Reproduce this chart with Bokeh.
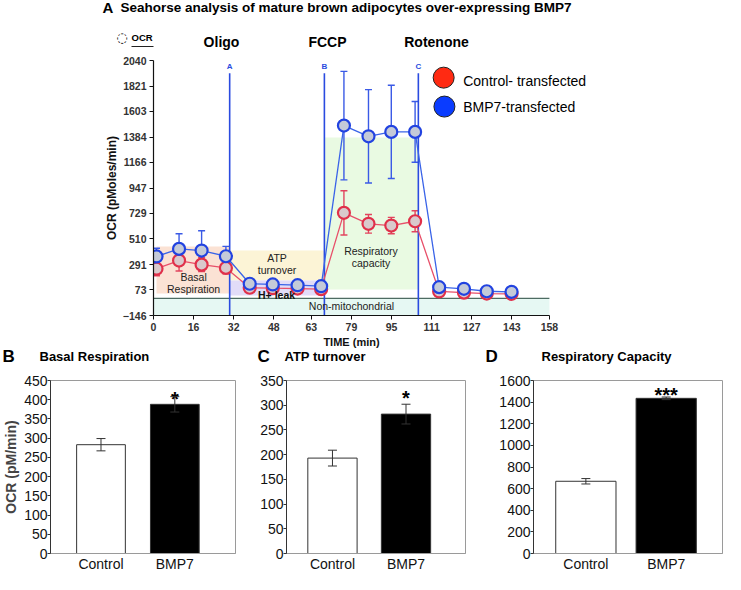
from bokeh.plotting import figure
from bokeh.layouts import column, row
from bokeh.models import ColumnDataSource, Whisker, TeeHead, FixedTicker, Label, Range1d
from bokeh.core.properties import value
from bokeh.embed import file_html
from bokeh.resources import INLINE

# ---------------- data: Seahorse time course (panel A) ----------------
time_min = [1.2, 10.2, 19.2, 28.9, 38.4, 47.6, 57.5, 66.9, 76.0, 85.8, 94.9, 104.4, 114.0, 123.9, 133.0, 142.9]
ctrl_ocr = [255, 325, 290, 262, 92, 88, 85, 80, 734, 640, 625, 662, 60, 50, 42, 40]
ctrl_err = [60, 90, 60, 50, 15, 15, 15, 15, 190, 80, 70, 90, 10, 10, 10, 10]
bmp7_ocr = [360, 425, 411, 362, 126, 120, 114, 105, 1482, 1390, 1428, 1428, 97, 83, 62, 57]
bmp7_err = [70, 130, 170, 85, 20, 20, 15, 15, 465, 400, 400, 260, 15, 15, 15, 15]
x_ticks = [0, 16, 32, 48, 63, 79, 95, 111, 127, 143, 158]
y_ticks = [-146, 73, 291, 510, 729, 947, 1166, 1384, 1603, 1821, 2040]
injection_names = ["Oligo", "FCCP", "Rotenone"]
injection_letters = ["A", "B", "C"]
injection_times = [30.4, 68.2, 105.7]
series_names = ["Control- transfected", "BMP7-transfected"]

# shaded regions: name, x0, x1, y0, y1
region_names = ["Basal Respiration", "ATP turnover", "H+ leak", "Respiratory capacity", "Non-mitochondrial"]
region_x0 = [1.2, 30.4, 30.4, 68.2, 0]
region_x1 = [30.4, 68.2, 68.2, 105.7, 158]
region_y0 = [42, 154, 25, 77, -146]
region_y1 = [445, 411, 154, 1379, 0]

# ---------------- data: bar panels (B, C, D) ----------------
bar_groups = ["Control", "BMP7"]
basal_mean = [283, 388]
basal_sem = [16, 20]
basal_sig = ["", "*"]
atp_mean = [193, 282]
atp_sem = [16, 20]
atp_sig = ["", "*"]
rc_mean = [668, 1435]
rc_sem = [25, 12]
rc_sig = ["", "***"]

FONT = "Liberation Sans"
W = 725


def add_label(p, x, y, text, size, bold=False, color="#000000", align="left", baseline="middle", font=FONT):
    p.add_layout(Label(x=x, y=y, text=text, text_font=font, text_font_size=f"{size}px",
                       text_font_style="bold" if bold else "normal", text_color=color,
                       text_align=align, text_baseline=baseline))


def strip(height):
    s = figure(width=W, height=height, x_range=Range1d(0, W), y_range=Range1d(height, 0),
               x_axis_type=None, y_axis_type=None, output_backend="svg", toolbar_location=None,
               min_border=0, min_border_left=0, min_border_right=0, min_border_top=0, min_border_bottom=0)
    s.outline_line_color = None
    s.grid.visible = False
    return s


# ---------------- top strip: title, OCR header, injection names ----------------
sT = strip(52)
add_label(sT, 102, 7, "A", 15, bold=True)
add_label(sT, 120, 7, "Seahorse analysis of mature brown adipocytes over-expressing BMP7", 13.5, bold=True)
add_label(sT, 121.5, 37, "\u25cc", 13, align="center", font="DejaVu Sans")
add_label(sT, 131, 37, "OCR", 9.5, bold=True)
sT.segment(x0=[131], y0=[46], x1=[153], y1=[46], line_color="#222222", line_width=1)
for xn, nm in zip([221, 327, 436], injection_names):
    add_label(sT, xn, 41, nm, 14, bold=True, align="center")

# ---------------- Panel A ----------------
pA = figure(width=W, height=283, x_range=Range1d(0, 176), y_range=Range1d(-146, 2040),
            output_backend="svg", toolbar_location=None,
            min_border_left=153, min_border_right=131, min_border_top=8, min_border_bottom=20)
pA.outline_line_color = None
pA.grid.visible = False

region_colors = ["#fbe2d4", "#fcf4d6", "#e2dcf8", "#e9fae2", "#e6f8f3"]
pA.quad(left=region_x0, right=region_x1, bottom=region_y0, top=region_y1,
        fill_color=region_colors, line_color=None, level="underlay")
pA.segment(x0=[0], y0=[0], x1=[158], y1=[0], line_color="#4d6b62", line_width=1.3)

pA.segment(x0=injection_times, y0=[-146] * 3, x1=injection_times, y1=[1930] * 3,
           line_color="#2a4be0", line_width=1.6)
pA.text(x=injection_times, y=[1985] * 3, text=injection_letters, text_font=value(FONT),
        text_font_size="8px", text_font_style="bold", text_color="#2a4be0",
        text_align="center", text_baseline="middle")

for ys, es, col in [(ctrl_ocr, ctrl_err, "#e2445e"), (bmp7_ocr, bmp7_err, "#3a5ae6")]:
    src = ColumnDataSource(dict(t=time_min, lo=[v - e for v, e in zip(ys, es)], hi=[v + e for v, e in zip(ys, es)]))
    pA.add_layout(Whisker(source=src, base="t", lower="lo", upper="hi", line_color=col, line_width=1.4,
                          lower_head=TeeHead(size=7, line_color=col, line_width=1.4),
                          upper_head=TeeHead(size=7, line_color=col, line_width=1.4)))

pA.line(time_min, ctrl_ocr, line_color="#e8506a", line_width=1.3)
pA.scatter(time_min, ctrl_ocr, size=12, fill_color="#d9c9cc", line_color="#e0304a", line_width=2.2)
pA.line(time_min, bmp7_ocr, line_color="#3a64e8", line_width=1.3)
pA.scatter(time_min, bmp7_ocr, size=12, fill_color="#c4cad8", line_color="#2243e0", line_width=2.2)

# legend
pA.scatter([115.8, 116.1], [1893, 1645], size=21, fill_color=["#ff2a12", "#0a3cff"], line_color="#222222", line_width=1)
add_label(pA, 123.6, 1867, series_names[0], 14)
add_label(pA, 123.6, 1645, series_names[1], 14)

# region texts
add_label(pA, 16, 188, "Basal", 10.5, align="center", color="#222222")
add_label(pA, 16, 85, "Respiration", 10.5, align="center", color="#222222")
add_label(pA, 49.3, 348, "ATP", 10.5, align="center", color="#222222")
add_label(pA, 49.3, 240, "turnover", 10.5, align="center", color="#222222")
add_label(pA, 49.1, 30, region_names[2], 10.5, bold=True, align="center", color="#111111")
add_label(pA, 86.8, 411, "Respiratory", 10.5, align="center", color="#222222")
add_label(pA, 86.8, 306, "capacity", 10.5, align="center", color="#222222")
add_label(pA, 79, -62, region_names[4], 10.5, align="center", color="#222222")

for ax in [pA.xaxis, pA.yaxis]:
    ax.axis_line_color = "#111111"
    ax.axis_line_width = 1.2
    ax.major_tick_line_color = "#111111"
    ax.major_tick_out = 4
    ax.major_tick_in = 0
    ax.minor_tick_line_color = None
    ax.major_label_text_font = FONT
    ax.major_label_text_font_size = "10.5px"
    ax.major_label_text_font_style = "bold"
    ax.major_label_text_color = "#333333"
pA.xaxis.ticker = FixedTicker(ticks=x_ticks)
pA.xaxis.bounds = (0, 158)
pA.yaxis.ticker = FixedTicker(ticks=y_ticks)
pA.xaxis.major_label_standoff = 3
pA.yaxis.axis_label = "OCR (pMoles/min)"
pA.yaxis.axis_label_text_font = FONT
pA.yaxis.axis_label_text_font_style = "bold"
pA.yaxis.axis_label_text_color = "#111111"
pA.yaxis.axis_label_text_font_size = "12px"
pA.yaxis.major_label_standoff = 3
pA.yaxis.axis_label_standoff = 1

# ---------------- middle strip: x-axis title of A, titles of B/C/D ----------------
sM = strip(37)
add_label(sM, 351, 6, "TIME (min)", 11, bold=True, align="center", color="#111111")
add_label(sM, 2, 21, "B", 17, bold=True)
add_label(sM, 39, 21, "Basal Respiration", 13, bold=True)
add_label(sM, 257, 21, "C", 17, bold=True)
add_label(sM, 284, 21, "ATP turnover", 13, bold=True)
add_label(sM, 485, 21, "D", 17, bold=True)
add_label(sM, 541, 21, "Respiratory Capacity", 13, bold=True)


# ---------------- bar panels ----------------
def bar_panel(width, left, right, xr, ymax, ystep, means, sems, sig, sig_y, bar_w, ylabel=None):
    p = figure(width=width, height=202, x_range=Range1d(*xr), y_range=Range1d(0, ymax),
               output_backend="svg", toolbar_location=None,
               min_border_left=left, min_border_right=right, min_border_top=8, min_border_bottom=19)
    p.grid.visible = False
    p.outline_line_color = "#9a9a9a"
    p.outline_line_width = 1
    xs = [i + 1 for i in range(len(bar_groups))]
    p.vbar(x=xs, top=means, width=bar_w, fill_color=["white", "black"], line_color="#333333", line_width=1)
    src = ColumnDataSource(dict(x=xs, lo=[m - s for m, s in zip(means, sems)], hi=[m + s for m, s in zip(means, sems)]))
    p.add_layout(Whisker(source=src, base="x", lower="lo", upper="hi", line_color="#333333", line_width=1,
                         level="overlay",
                         lower_head=TeeHead(size=9, line_color="#333333", line_width=1),
                         upper_head=TeeHead(size=9, line_color="#333333", line_width=1)))
    p.text(x=xs, y=[sig_y] * len(xs), text=sig, text_font=value(FONT), text_font_size="20px", text_font_style="bold",
           text_align="center", text_baseline="middle", text_color="#000000")
    p.yaxis.ticker = FixedTicker(ticks=list(range(0, ymax + 1, ystep)))
    p.xaxis.ticker = FixedTicker(ticks=xs)
    p.xaxis.major_label_overrides = {x: g for x, g in zip(xs, bar_groups)}
    for ax in [p.xaxis, p.yaxis]:
        ax.minor_tick_line_color = None
        ax.major_label_text_font = FONT
        ax.major_label_text_font_size = "14px"
        ax.major_label_text_color = "#111111"
        ax.major_tick_in = 0
    p.yaxis.axis_line_color = "#333333"
    p.yaxis.major_tick_line_color = "#333333"
    p.yaxis.major_tick_out = 3
    p.yaxis.major_label_standoff = 0
    p.xaxis.axis_line_color = "#9a9a9a"
    p.xaxis.major_tick_line_color = None
    p.xaxis.major_tick_out = 0
    p.xaxis.major_label_standoff = 2
    if ylabel:
        p.yaxis.axis_label = ylabel
        p.yaxis.axis_label_text_font = FONT
        p.yaxis.axis_label_text_font_size = "14px"
        p.yaxis.axis_label_text_font_style = "bold"
        p.yaxis.axis_label_standoff = 2
    return p


pB = bar_panel(257, 46, 22, (0.316, 2.822), 450, 50, basal_mean, basal_sem, basal_sig, 403, 0.66,
               ylabel="OCR (pM/min)")
pC = bar_panel(229, 27, 21, (0.375, 2.809), 350, 50, atp_mean, atp_sem, atp_sig, 315, 0.67)
pD = bar_panel(239, 47, 3, (0.348, 2.701), 1600, 200, rc_mean, rc_sem, rc_sig, 1465, 0.75)

layout = column(row(sT), pA, row(sM), row(pB, pC, pD))
open("out.html", "w").write(file_html(layout, INLINE))
